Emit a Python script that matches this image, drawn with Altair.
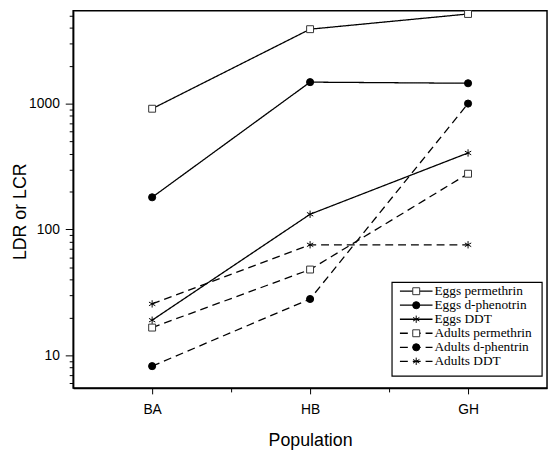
import altair as alt
import pandas as pd

populations = ["BA", "HB", "GH"]
series_names = ["Eggs permethrin", "Eggs d-phenotrin", "Eggs DDT",
                "Adults permethrin", "Adults d-phentrin", "Adults DDT"]
groups = ["Eggs", "Eggs", "Eggs", "Adults", "Adults", "Adults"]
markers = ["square", "circle", "asterisk", "square", "circle", "asterisk"]

eggs_permethrin = [910, 3900, 5150]
eggs_dphenotrin = [180, 1480, 1450]
eggs_ddt = [19, 132, 405]
adults_permethrin = [16.6, 48, 277]
adults_dphentrin = [8.2, 28, 1000]
adults_ddt = [25.6, 75.5, 75.5]

all_values = [eggs_permethrin, eggs_dphenotrin, eggs_ddt,
              adults_permethrin, adults_dphentrin, adults_ddt]

rows = []
for name, grp, mk, vals in zip(series_names, groups, markers, all_values):
    for i, (pop, v) in enumerate(zip(populations, vals)):
        rows.append({"series": name, "group": grp, "marker": mk,
                     "pos": i + 1, "pop": pop, "value": v})
df = pd.DataFrame(rows)

legend_df = pd.DataFrame({"series": series_names, "group": groups,
                          "marker": markers, "row": list(range(len(series_names)))})

ASTERISK = "M0,-1V1M-0.866,-0.5L0.866,0.5M-0.866,0.5L0.866,-0.5"
shape_scale = alt.Scale(domain=["square", "circle", "asterisk"],
                        range=["square", "circle", ASTERISK])
fill_scale = alt.Scale(domain=["square", "circle", "asterisk"],
                       range=["white", "black", "transparent"])
stroke_scale = alt.Scale(domain=["square", "circle", "asterisk"],
                         range=["#333333", "black", "black"])
size_scale = alt.Scale(domain=["square", "circle", "asterisk"],
                       range=[49, 55, 80])
dash_scale = alt.Scale(domain=["Eggs", "Adults"], range=[[1, 0], [8, 5]])

label_expr = " : ".join(
    [f"datum.value == {i + 1} ? '{p}'" for i, p in enumerate(populations)]) + " : ''"

x_ticks = [1, 1.5, 2, 2.5, 3]
y_ticks = [6, 7, 8, 9, 10, 20, 30, 40, 50, 60, 70, 80, 90, 100,
           200, 300, 400, 500, 600, 700, 800, 900, 1000,
           2000, 3000, 4000, 5000]
is_decade = "abs(log(datum.value)/LN10 - round(log(datum.value)/LN10)) < 0.001"

x_enc = alt.X("pos:Q",
              scale=alt.Scale(domain=[0.5, 3.5], nice=False, zero=False),
              axis=alt.Axis(values=x_ticks, labelExpr=label_expr,
                            title="Population", titleFontSize=18,
                            titleX=240, titleY=58, titleBaseline="alphabetic",
                            titleAlign="center",
                            labelFontSize=14, labelPadding=9,
                            tickSize={"condition": {"test": "datum.value % 1 == 0", "value": 6}, "value": 4},
                            labelOverlap=False, domainWidth=1.5))
y_enc = alt.Y("value:Q",
              scale=alt.Scale(type="log", domain=[5.5, 5455], nice=False),
              axis=alt.Axis(values=y_ticks,
                            labelExpr=f"({is_decade}) ? format(datum.value, 'd') : ''",
                            title="LDR or LCR", titleFontSize=18,
                            titleX=-53, titleY=203, titleAngle=-90,
                            titleBaseline="middle", titleAlign="center",
                            labelFontSize=14, labelPadding=6,
                            tickSize={"condition": {"test": is_decade, "value": 8}, "value": 4},
                            labelOverlap=False, domainWidth=1.5))

lines = alt.Chart(df).mark_line(color="black", strokeWidth=1.3).encode(
    x=x_enc, y=y_enc, detail="series:N",
    strokeDash=alt.StrokeDash("group:N", scale=dash_scale, legend=None),
    order="pos:Q")

points = alt.Chart(df).mark_point(filled=True, strokeWidth=1, opacity=1).encode(
    x=alt.X("pos:Q", scale=alt.Scale(domain=[0.5, 3.5], nice=False, zero=False)),
    y=alt.Y("value:Q", scale=alt.Scale(type="log", domain=[5.5, 5455], nice=False)),
    shape=alt.Shape("marker:N", scale=shape_scale, legend=None),
    fill=alt.Fill("marker:N", scale=fill_scale, legend=None),
    stroke=alt.Stroke("marker:N", scale=stroke_scale, legend=None),
    size=alt.Size("marker:N", scale=size_scale, legend=None))

main = alt.layer(lines, points)

ly = alt.Y("row:Q", scale=alt.Scale(domain=[0, 5], range=[284, 355]), axis=None)

box = alt.Chart(pd.DataFrame({"a": [0]})).mark_rect(
    fill="white", stroke="black", strokeWidth=1.2).encode(
    x=alt.value(323), x2=alt.value(475), y=alt.value(275), y2=alt.value(370))

leg_lines = alt.Chart(legend_df).mark_rule(color="black", strokeWidth=1.3).encode(
    x=alt.value(331), x2=alt.value(364), y=ly,
    strokeDash=alt.StrokeDash("group:N", scale=dash_scale, legend=None))

leg_points = alt.Chart(legend_df).mark_point(filled=True, strokeWidth=1, opacity=1).encode(
    x=alt.value(347.5), y=ly,
    shape=alt.Shape("marker:N", scale=shape_scale, legend=None),
    fill=alt.Fill("marker:N", scale=fill_scale, legend=None),
    stroke=alt.Stroke("marker:N", scale=stroke_scale, legend=None),
    size=alt.Size("marker:N", scale=size_scale, legend=None))

leg_text = alt.Chart(legend_df).mark_text(
    align="left", baseline="middle", font="Liberation Serif", fontSize=13.5,
    color="black").encode(x=alt.value(366), y=ly, text="series:N")

legend = alt.layer(box, leg_lines, leg_points, leg_text)

chart = alt.layer(main, legend).resolve_scale(y="independent").properties(
    width=480, height=382,
    autosize=alt.AutoSizeParams(type="none"),
    padding={"left": 66, "top": 0, "right": 2, "bottom": 62},
    background="white"
).configure_view(stroke="black", strokeWidth=1.5).configure_axis(
    grid=False, domainColor="black", tickColor="black", labelColor="black",
    titleColor="black", labelFont="Liberation Sans", titleFont="Liberation Sans",
    titleFontWeight="normal", tickWidth=1)

chart.save("out.html", embed_options={"renderer": "svg", "actions": False})
